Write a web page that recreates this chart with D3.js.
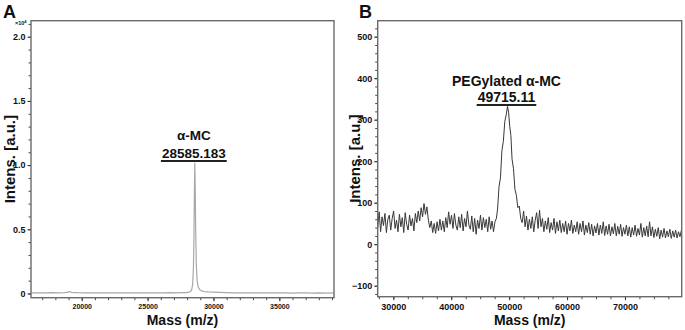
<!DOCTYPE html>
<html><head><meta charset="utf-8">
<script src="https://cdn.jsdelivr.net/npm/d3@7"></script>
<style>body{margin:0;background:#fff}text{font-family:"Liberation Sans",Arial,sans-serif;font-weight:bold;fill:#111}</style>
</head><body>
<svg id="c" width="685" height="330"></svg>
<script>
// ---------- Panel A data ----------
const massA = [16200,16700,17200,17700,18200,18700,19000,19100,19200,19700,20200,20700,21200,21700,22200,22700,23200,23700,24200,24700,25200,25700,26200,26700,27200,27600,27900,28100,28250,28350,28420,28480,28520,28555,28585,28615,28650,28700,28760,28840,28950,29100,29300,29600,30000,30500,31000,31500,32000,32500,33000,33500,34000,34500,35000,35500,36000,36500,37000,37500,38000,38500,39100];
const intensA = [0.004,0.005,0.004,0.006,0.005,0.006,0.010,0.016,0.009,0.006,0.005,0.004,0.005,0.004,0.005,0.004,0.005,0.004,0.005,0.004,0.005,0.005,0.004,0.006,0.005,0.006,0.007,0.008,0.015,0.03,0.07,0.2,0.45,0.8,1.015,0.82,0.5,0.22,0.1,0.05,0.03,0.02,0.015,0.012,0.01,0.008,0.006,0.005,0.005,0.004,0.005,0.004,0.004,0.005,0.004,0.004,0.003,0.004,0.004,0.003,0.004,0.003,0.004];
const xTicksA = [20000,25000,30000,35000];
const yTicksA = [0,0.5,1.0,1.5,2.0];
const labelA = ["α-MC","28585.183"];
const peakA = [28585,1.015];

// ---------- Panel B data ----------
const massB = [27300,27550,27800,28050,28300,28550,28800,29050,29300,29550,29800,30050,30300,30550,30800,31050,31300,31550,31800,32050,32300,32550,32800,33050,33300,33550,33800,34050,34300,34550,34800,35050,35300,35550,35800,36050,36300,36550,36800,37050,37300,37550,37800,38050,38300,38550,38800,39050,39300,39550,39800,40050,40300,40550,40800,41050,41300,41550,41800,42050,42300,42550,42800,43050,43300,43550,43800,44050,44300,44550,44800,45050,45300,45550,45800,46050,46300,46550,46800,47050,47300,47550,47800,48000,48250,48500,48750,49000,49250,49500,49715,49900,50100,50300,50500,50750,51000,51250,51500,51750,52000,52250,52500,52750,53000,53250,53500,53750,54000,54250,54500,54750,55000,55250,55500,55750,56000,56250,56500,56750,57000,57250,57500,57750,58000,58250,58500,58750,59000,59250,59500,59750,60000,60250,60500,60750,61000,61250,61500,61750,62000,62250,62500,62750,63000,63250,63500,63750,64000,64250,64500,64750,65000,65250,65500,65750,66000,66250,66500,66750,67000,67250,67500,67750,68000,68250,68500,68750,69000,69250,69500,69750,70000,70250,70500,70750,71000,71250,71500,71750,72000,72250,72500,72750,73000,73250,73500,73750,74000,74250,74500,74750,75000,75250,75500,75750,76000,76250,76500,76750,77000,77250,77500,77750,78000,78250,78500,78750,79000,79250,79500,79750];
const intensB = [
  40,78,30,66,45,74,28,60,70,34,
  62,80,38,58,30,72,42,64,28,76,
  48,34,70,44,62,32,74,52,80,56,
  88,66,98,72,90,58,40,56,28,50,
  26,54,32,60,34,56,30,64,40,78,
  48,70,38,74,46,34,66,40,72,32,
  62,42,80,46,36,68,30,62,24,58,
  38,70,34,64,40,60,30,66,36,56,
  30,54,62,
  85,138,160,225,248,296,312,332,318,284,262,205,182,132,118,88,92,62,
  52,80,42,68,34,60,38,66,30,58,
  76,38,82,42,62,30,56,36,64,28,
  52,34,62,26,54,32,58,28,50,30,
  56,24,50,32,58,26,46,30,54,24,
  50,30,56,22,46,28,52,24,48,20,
  44,27,50,22,46,26,54,21,44,24,
  48,20,42,25,50,20,43,24,48,19,
  40,24,46,20,42,17,40,22,46,19,
  38,22,50,17,40,20,44,18,54,20,
  42,16,36,19,40,13,34,17,38,15,
  32,18,36,14,32,17,34,15,30,18,
  34];
const xTicksB = [30000,40000,50000,60000,70000];
const yTicksB = [-100,0,100,200,300,400,500];
const labelB = ["PEGylated α-MC","49715.11"];
const peakB = [49715,332];

const svg = d3.select("#c");

function panel(o){
  const x = d3.scaleLinear().domain(o.xd).range([o.l,o.r]);
  const y = d3.scaleLinear().domain(o.yd).range([o.b,o.t]);
  const g = svg.append("g");
  // minor ticks
  g.append("g").attr("transform",`translate(0,${o.b})`)
    .call(d3.axisBottom(x).tickValues(o.xMinor).tickSize(2.5).tickFormat(""))
    .call(a=>{a.select(".domain").remove();a.selectAll("line").attr("stroke","#444");});
  g.append("g").attr("transform",`translate(${o.l},0)`)
    .call(d3.axisLeft(y).tickValues(o.yMinor).tickSize(2.5).tickFormat(""))
    .call(a=>{a.select(".domain").remove();a.selectAll("line").attr("stroke","#444");});
  // major ticks
  g.append("g").attr("transform",`translate(0,${o.b})`)
    .call(d3.axisBottom(x).tickValues(o.xTicks).tickSize(3.5).tickPadding(3).tickFormat(d3.format("d")))
    .call(a=>{a.select(".domain").remove();a.selectAll("line").attr("stroke","#333");
      a.selectAll("text").attr("font-size",o.xfs).attr("fill","#111")
       .style("font-family",'"Liberation Sans",Arial,sans-serif').style("font-weight","bold");});
  g.append("g").attr("transform",`translate(${o.l},0)`)
    .call(d3.axisLeft(y).tickValues(o.yTicks).tickSize(3.5).tickPadding(2).tickFormat(o.yfmt))
    .call(a=>{a.select(".domain").remove();a.selectAll("line").attr("stroke","#333");
      a.selectAll("text").attr("font-size",9).attr("fill","#111")
       .style("font-family",'"Liberation Sans",Arial,sans-serif').style("font-weight","bold");});
  // data line
  const clip = "clip"+o.id;
  svg.append("clipPath").attr("id",clip).append("rect")
    .attr("x",o.l).attr("y",o.t).attr("width",o.r-o.l).attr("height",o.b-o.t);
  g.append("path").datum(o.mass.map((m,i)=>[m,o.inten[i]]))
    .attr("clip-path",`url(#${clip})`)
    .attr("fill","none").attr("stroke",o.color).attr("stroke-width",o.lw)
    .attr("stroke-linejoin","round")
    .attr("d",d3.line().x(d=>x(d[0])).y(d=>y(d[1])));
  // frame
  g.append("rect").attr("x",o.l).attr("y",o.t).attr("width",o.r-o.l).attr("height",o.b-o.t)
    .attr("fill","none").attr("stroke","#6a6a6a").attr("stroke-width",1.4);
  // annotation
  const px = x(o.peak[0]);
  g.append("text").attr("x",px+o.ldx).attr("y",o.ly1).attr("text-anchor","middle").attr("font-size",o.afs).text(o.label[0]);
  const t2 = g.append("text").attr("x",px+o.ldx).attr("y",o.ly2).attr("text-anchor","middle").attr("font-size",o.afs).text(o.label[1]);
  const w = t2.node().getComputedTextLength();
  g.append("line").attr("x1",px+o.ldx-w/2-1).attr("x2",px+o.ldx+w/2+1)
    .attr("y1",o.ly2+3).attr("y2",o.ly2+3).attr("stroke","#222").attr("stroke-width",2);
  // axis titles
  g.append("text").attr("x",(o.l+o.r)/2).attr("y",325).attr("text-anchor","middle").attr("font-size",14).text("Mass (m/z)");
  g.append("text").attr("transform",`translate(${o.l-o.ytx},${(o.t+o.b)/2}) rotate(-90)`)
    .attr("text-anchor","middle").attr("font-size",15).text("Intens. [a.u.]");
  g.append("text").attr("x",o.px).attr("y",17.5).attr("font-size",18).text(o.panel);
}

const rangeStep=(a,b,s)=>d3.range(a,b+s/2,s);

panel({id:"A",panel:"A",px:3,l:31,r:334,t:20.7,b:297.7,xd:[16150,39150],yd:[-0.033,2.125],
  xTicks:xTicksA,yTicks:yTicksA,xMinor:rangeStep(17000,39000,1000),yMinor:rangeStep(0,2.1,0.1).map(v=>+v.toFixed(2)),
  yfmt:d=>d===0?"0":d3.format(".1f")(d),xfs:7,mass:massA,inten:intensA,color:"#a8a8a8",lw:1.2,
  peak:peakA,label:labelA,ldx:-1,ly1:140,ly2:158,afs:13.5,ytx:16});
// ×10^4 exponent label
svg.append("text").attr("x",15).attr("y",25).attr("font-size",5.5).text("×10").append("tspan").attr("dy",-2).attr("font-size",4).text("4");

panel({id:"B",panel:"B",px:359,l:377.7,r:681.7,t:20.7,b:296.7,xd:[27300,79800],yd:[-126.5,538.5],
  xTicks:xTicksB,yTicks:yTicksB,xMinor:rangeStep(27500,77500,2500),yMinor:rangeStep(-120,520,20),
  yfmt:d3.format("d"),xfs:9,mass:massB,inten:intensB,color:"#383838",lw:1,
  peak:peakB,label:labelB,ldx:-1,ly1:86,ly2:102,afs:14,ytx:18});
</script>
</body></html>
